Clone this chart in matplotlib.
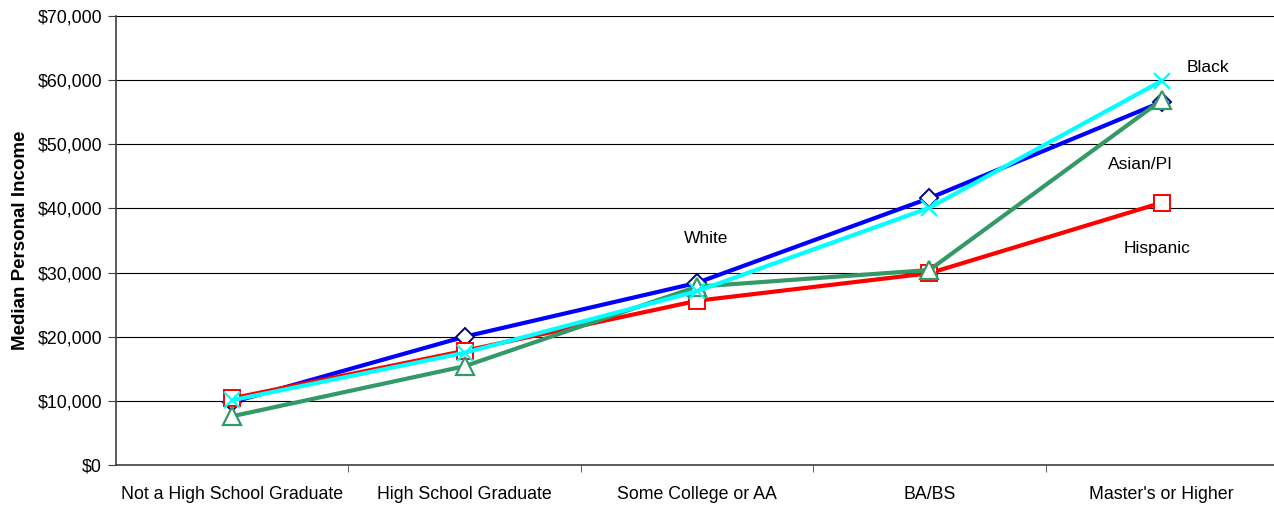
import matplotlib
matplotlib.use('Agg')
import matplotlib.pyplot as plt
from matplotlib.ticker import FuncFormatter

plt.rcParams['font.family'] = ['Liberation Sans', 'DejaVu Sans']

categories = ['Not a High School Graduate', 'High School Graduate', 'Some College or AA', 'BA/BS', "Master's or Higher"]

white = [9800, 20000, 28400, 41600, 56600]
hispanic = [10400, 17800, 25600, 29900, 40900]
asian_pi = [7600, 15400, 27800, 30400, 56900]
black = [10100, 17500, 27100, 40100, 59900]

fig = plt.figure(figsize=(12.74, 5.08), dpi=100)
ax = fig.add_axes([116/1274, 1 - 465/508, 1162/1274, 449/508])

x = range(len(categories))

ax.plot(x, white, color='#0000FF', lw=3, marker='D', ms=9, mfc='white', mec='#000080', mew=1.4, zorder=3)
ax.plot(x, hispanic, color='#FF0000', lw=3, marker='s', ms=12, mfc='white', mec='#FF0000', mew=1.4, zorder=4)
ax.plot(x, asian_pi, color='#339966', lw=3, marker='^', ms=13, mfc='white', mec='#339966', mew=1.6, zorder=5)
ax.plot(x, black, color='#00FFFF', lw=3, marker='x', ms=12, mec='#00FFFF', mew=1.6, zorder=6)

ax.text(2.04, 35300, 'White', ha='center', va='center', fontsize=12.5)
ax.text(4.2, 62000, 'Black', ha='center', va='center', fontsize=12.5)
ax.text(3.91, 46800, 'Asian/PI', ha='center', va='center', fontsize=12.5)
ax.text(3.98, 33800, 'Hispanic', ha='center', va='center', fontsize=12.5)

ax.set_xlim(-0.5, 4.5)
ax.set_ylim(0, 70000)
ax.set_yticks(range(0, 70001, 10000))
ax.yaxis.set_major_formatter(FuncFormatter(lambda v, p: '${:,.0f}'.format(v)))
ax.set_xticks(list(x))
ax.set_xticklabels(categories, fontsize=12.8)
ax.set_xticks([0.5, 1.5, 2.5, 3.5], minor=True)
ax.tick_params(axis='x', which='major', length=0, pad=15)
ax.tick_params(axis='x', which='minor', length=5, color='#404040')
ax.tick_params(axis='y', length=6, color='#404040', labelsize=12.8, pad=4)

ax.grid(axis='y', color='black', lw=0.8)
ax.set_axisbelow(True)
for s in ['top', 'right']:
    ax.spines[s].set_visible(False)
ax.spines['left'].set_color('#404040')
ax.spines['bottom'].set_color('#404040')
ax.spines['left'].set_linewidth(1.2)
ax.spines['bottom'].set_linewidth(1.2)

ax.set_ylabel('Median Personal Income', fontsize=13.5, fontweight='bold', labelpad=6)

fig.savefig('out.png', dpi=100)
